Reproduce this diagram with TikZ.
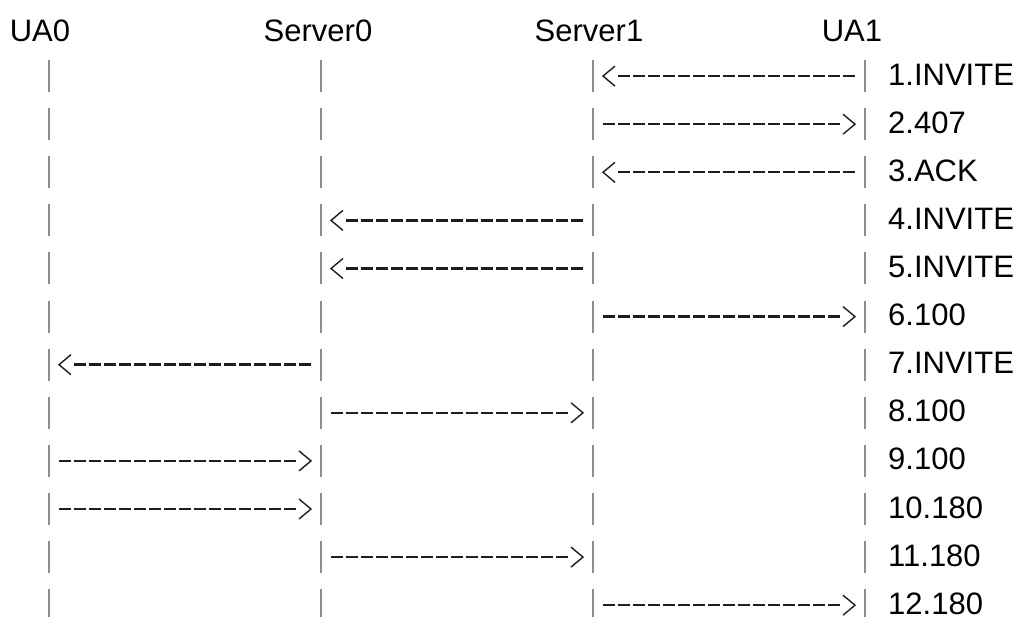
\documentclass[tikz,border=0pt]{standalone}
\usepackage{fontspec}
\setmainfont{Liberation Sans}
\usetikzlibrary{calc}
\definecolor{barc}{HTML}{8C8C8C}
\definecolor{dashc}{HTML}{1E1E1E}
\begin{document}
\begin{tikzpicture}[x=1pt,y=-1pt,
  lbl/.style={font=\fontsize{31}{37}\selectfont, inner sep=0pt, anchor=base west},
  hdr/.style={font=\fontsize{31}{37}\selectfont, inner sep=0pt, anchor=base},
  lifebar/.style={minimum width=0pt, minimum height=32pt, inner sep=0pt, outer sep=0pt},
  barline/.style={draw=barc, line width=1.5pt},
  msg/.style={draw=dashc, line width=2.4pt, dash pattern=on 12pt off 3pt,
    shorten <=10pt, shorten >=24pt},
  chev/.style={draw=dashc, line width=1.4pt}
]
\useasboundingbox (0,0) rectangle (1020,617);
% headers
\node[hdr] (h0) at (40,42) {UA0};
\node[hdr] (h1) at (318,42) {Server0};
\node[hdr] (h2) at (589,42) {Server1};
\node[hdr] (h3) at (852,42) {UA1};
% lifeline segments
\foreach \c/\x in {0/49,1/321,2/593,3/865}{
  \foreach \r in {1,...,12}{
    \node[lifebar] (b\c-\r) at (\x,{28+48.1*\r}) {};
    \draw[barline] (b\c-\r.north) -- (b\c-\r.south);
  }
}
% messages
\foreach \r/\f/\t/\txt in {1/3/2/1.INVITE, 2/2/3/2.407, 3/3/2/3.ACK,
  4/2/1/4.INVITE, 5/2/1/5.INVITE, 6/2/3/6.100, 7/1/0/7.INVITE,
  8/1/2/8.100, 9/0/1/9.100, 10/0/1/10.180, 11/1/2/11.180, 12/2/3/12.180}{
  \pgfmathsetmacro\s{\t>\f ? 1 : -1}
  \draw[msg] (b\f-\r) -- (b\t-\r);
  \draw[chev] ($(b\t-\r)+({-22*\s},-10)$) -- ($(b\t-\r)+({-10*\s},0)$)
    -- ($(b\t-\r)+({-22*\s},10)$);
  \node[lbl] (l\r) at (888,{37+48.1*\r}) {\txt};
}
\end{tikzpicture}
\end{document}
